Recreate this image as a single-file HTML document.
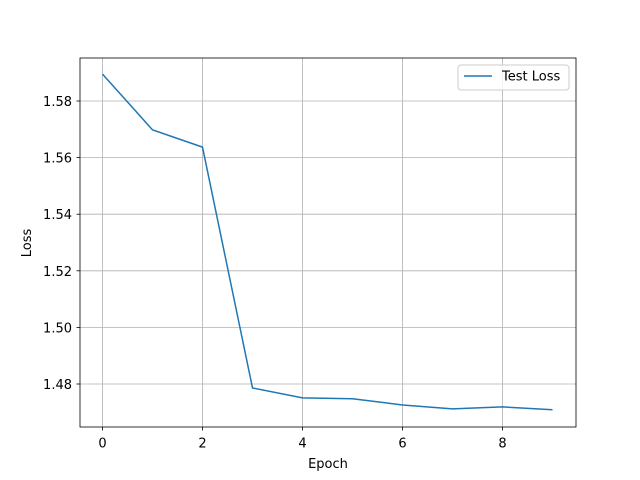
<!DOCTYPE html>
<html><head><meta charset="utf-8"><style>
body{margin:0;background:#fff}
svg{display:block;font-family:"DejaVu Sans","Liberation Sans",sans-serif}
</style></head><body>
<svg id="chart" width="640" height="480">
<rect x="0" y="0" width="640" height="480" fill="#fff"/>
<g id="grid"></g>
<g id="ticks"></g>
<path id="line" fill="none" stroke="#1f77b4" stroke-width="1.5"/>
<rect x="80" y="58" width="496" height="369" fill="none" stroke="#000" stroke-width="0.8"/>
<text x="328" y="468" font-size="13" text-anchor="middle">Epoch</text>
<text transform="translate(31,243) rotate(-90)" font-size="13" text-anchor="middle">Loss</text>
<g>
<rect x="458" y="65" width="111" height="25" rx="3" fill="#fff" fill-opacity="0.8" stroke="#ccc"/>
<line x1="464" y1="76" x2="492" y2="76" stroke="#1f77b4" stroke-width="1.5"/>
<text x="502" y="80.5" font-size="13">Test Loss</text>
</g>
</svg>
<script>
const epochs=[0,1,2,3,4,5,6,7,8,9];
const testLoss=[1.5895,1.5698,1.5637,1.4786,1.4751,1.4748,1.4726,1.4712,1.4719,1.4709];
const xTicks=[0,2,4,6,8];
const yTicks=[1.48,1.50,1.52,1.54,1.56,1.58];
const xs=v=>102.5+(v-0)*50;
const ys=v=>101+(1.58-v)*2830;
const ns="http://www.w3.org/2000/svg";
const grid=document.getElementById('grid'),ticks=document.getElementById('ticks');
function mk(tag,attrs,parent){const e=document.createElementNS(ns,tag);for(const k in attrs)e.setAttribute(k,attrs[k]);parent.appendChild(e);return e;}
xTicks.forEach(t=>{const x=xs(t);
const g=mk('line',{x1:x,x2:x,y1:58,y2:427,stroke:'#b0b0b0','stroke-width':0.8},grid);


const tk=mk('line',{x1:x,x2:x,y1:427,y2:430.5,stroke:'#000','stroke-width':0.8},ticks);


const tx=mk('text',{x:x,y:447.5,'font-size':13,'text-anchor':'middle'},ticks);tx.textContent=t;


});
yTicks.forEach(t=>{const y=ys(t);
const g=mk('line',{x1:80,x2:576,y1:y,y2:y,stroke:'#b0b0b0','stroke-width':0.8},grid);


const tk=mk('line',{x1:76.5,x2:80,y1:y,y2:y,stroke:'#000','stroke-width':0.8},ticks);


const tx=mk('text',{x:72,y:y+5,'font-size':13,'text-anchor':'end'},ticks);tx.textContent=t.toFixed(2);


});
document.getElementById('line').setAttribute('d',epochs.map((e,i)=>(i?'L':'M')+xs(e)+','+ys(testLoss[i])).join(''));
</script>
</body></html>
